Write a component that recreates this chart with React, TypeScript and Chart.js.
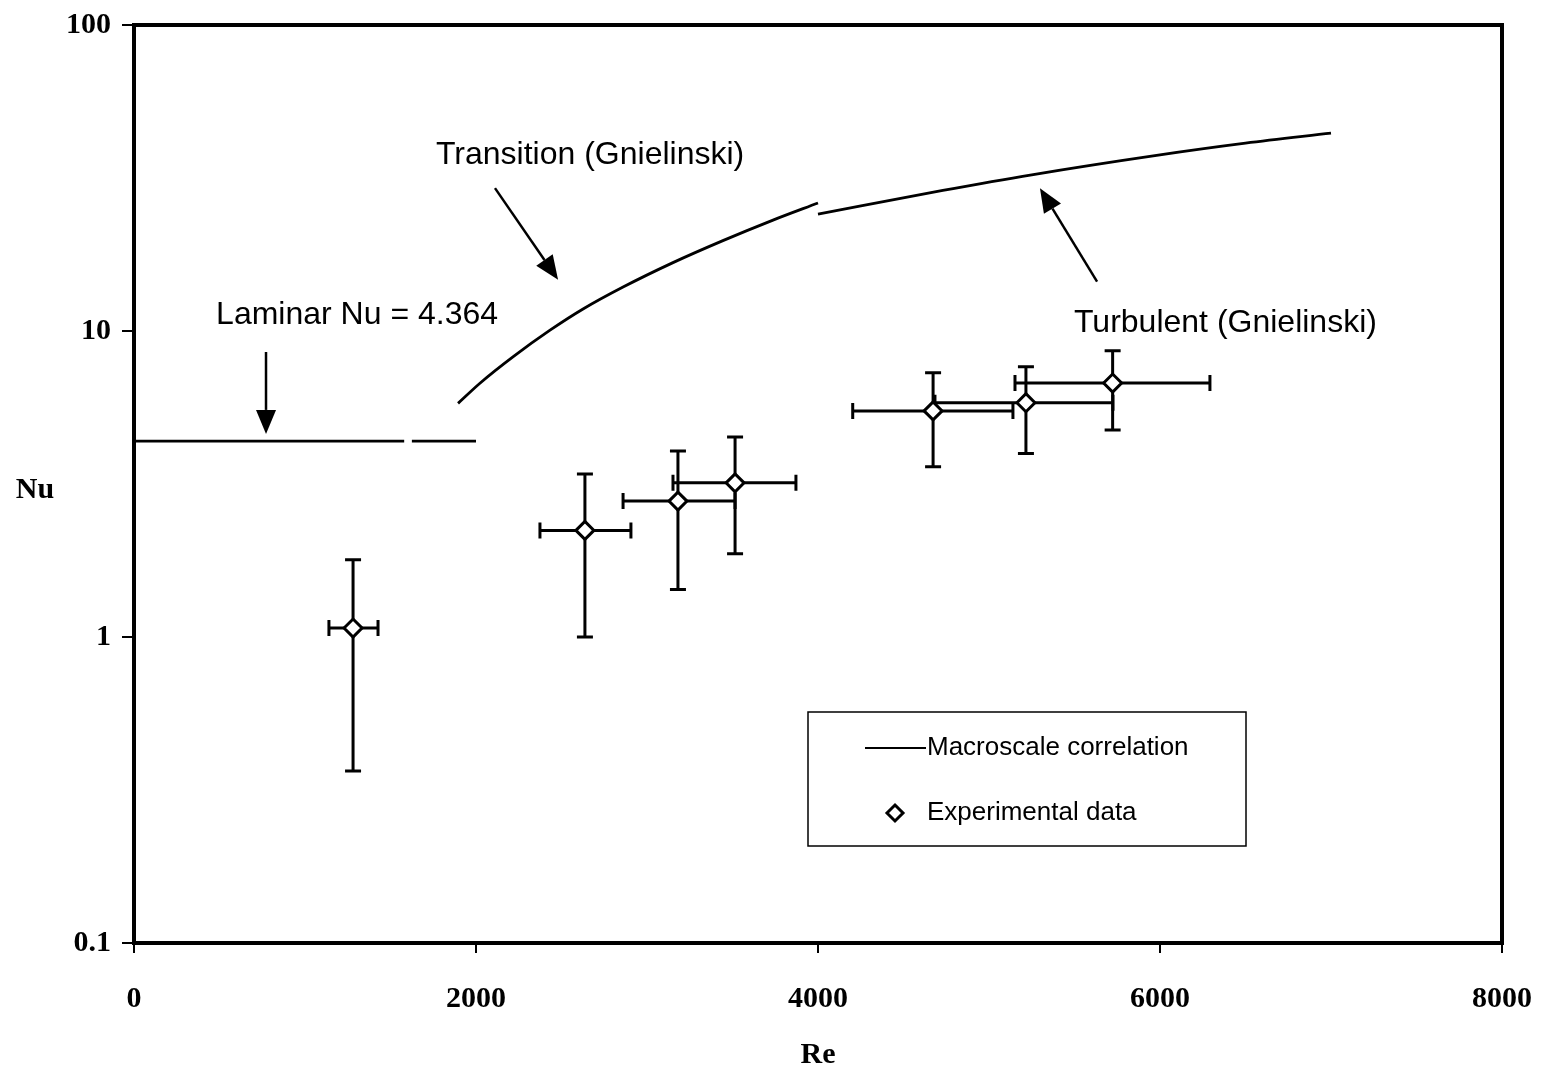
import React, { useEffect, useRef } from "react";
import { Chart, registerables } from "chart.js";

Chart.register(...registerables);

// ---- Data ----
const xTicks = [0, 2000, 4000, 6000, 8000];
const yTicks = [0.1, 1, 10, 100];

const laminarRe = [0, 1580, 1600, 1625, 2000];
const laminarNu = [4.364, 4.364, null, 4.364, 4.364];

const transitionRe = [1895, 2023, 2216, 2433, 2626, 2860, 3152, 3444, 3737, 4000];
const transitionNu = [5.8, 6.75, 8.23, 10.06, 11.8, 13.92, 16.73, 19.74, 23.04, 26.2];

const turbulentRe = [4000, 4730, 5250, 5980, 6500, 7000];
const turbulentNu = [24.1, 28.8, 32.4, 37.5, 41.1, 44.3];

const expRe = [1281, 2637, 3181, 3515, 4673, 5216, 5723];
const expNu = [1.07, 2.23, 2.78, 3.19, 5.48, 5.83, 6.76];
const expNuLow = [0.365, 1.0, 1.43, 1.87, 3.6, 3.98, 4.75];
const expNuHigh = [1.79, 3.41, 4.05, 4.5, 7.3, 7.64, 8.62];
const expReLow = [1140, 2374, 2860, 3152, 4203, 4684, 5152];
const expReHigh = [1427, 2906, 3515, 3871, 5140, 5725, 6292];

// annotations in data coordinates
const labels = [
  { text: "Laminar Nu = 4.364", re: 480, nu: 11.27 },
  { text: "Transition (Gnielinski)", re: 1766, nu: 37.6 },
  { text: "Turbulent (Gnielinski)", re: 5497, nu: 10.6 },
];
const arrows = [
  { re1: 772, nu1: 8.54, re2: 772, nu2: 4.61 },
  { re1: 2111, nu1: 29.3, re2: 2480, nu2: 14.7 },
  { re1: 5632, nu1: 14.5, re2: 5298, nu2: 29.3 },
];

const legendItems = ["Macroscale correlation", "Experimental data"];

const W = 1541;
const H = 1069;
const SANS = '"Liberation Sans", Arial, sans-serif';
const SERIF = '"Liberation Serif", "Times New Roman", serif';

function drawDiamond(ctx: CanvasRenderingContext2D, x: number, y: number, r: number) {
  ctx.beginPath();
  ctx.moveTo(x, y - r);
  ctx.lineTo(x + r, y);
  ctx.lineTo(x, y + r);
  ctx.lineTo(x - r, y);
  ctx.closePath();
  ctx.fillStyle = "#fff";
  ctx.fill();
  ctx.lineWidth = 3;
  ctx.strokeStyle = "#000";
  ctx.stroke();
}

const customPlugin = {
  id: "custom",
  beforeDraw(chart: any) {
    const ctx = chart.ctx;
    ctx.save();
    ctx.fillStyle = "#fff";
    ctx.fillRect(0, 0, chart.width, chart.height);
    ctx.restore();
  },
  beforeDatasetsDraw(chart: any) {
    const ctx = chart.ctx;
    const xs = chart.scales.x;
    const ys = chart.scales.y;
    ctx.save();
    ctx.strokeStyle = "#000";
    ctx.lineWidth = 3;
    const cap = 8;
    for (let i = 0; i < expRe.length; i++) {
      const x = xs.getPixelForValue(expRe[i]);
      const y = ys.getPixelForValue(expNu[i]);
      const yl = ys.getPixelForValue(expNuLow[i]);
      const yh = ys.getPixelForValue(expNuHigh[i]);
      const xl = xs.getPixelForValue(expReLow[i]);
      const xh = xs.getPixelForValue(expReHigh[i]);
      ctx.beginPath();
      ctx.moveTo(x, yl);
      ctx.lineTo(x, yh);
      ctx.moveTo(x - cap, yl);
      ctx.lineTo(x + cap, yl);
      ctx.moveTo(x - cap, yh);
      ctx.lineTo(x + cap, yh);
      ctx.moveTo(xl, y);
      ctx.lineTo(xh, y);
      ctx.moveTo(xl, y - cap);
      ctx.lineTo(xl, y + cap);
      ctx.moveTo(xh, y - cap);
      ctx.lineTo(xh, y + cap);
      ctx.stroke();
    }
    ctx.restore();
  },
  afterDraw(chart: any) {
    const ctx = chart.ctx;
    const xs = chart.scales.x;
    const ys = chart.scales.y;
    const a = chart.chartArea;
    ctx.save();
    // top and right frame
    ctx.strokeStyle = "#000";
    ctx.lineWidth = 4;
    ctx.beginPath();
    ctx.moveTo(a.left - 2, a.top);
    ctx.lineTo(a.right, a.top);
    ctx.lineTo(a.right, a.bottom + 2);
    ctx.stroke();

    // annotation labels
    ctx.fillStyle = "#000";
    ctx.font = `32px ${SANS}`;
    ctx.textAlign = "left";
    ctx.textBaseline = "middle";
    for (const l of labels) {
      ctx.fillText(l.text, xs.getPixelForValue(l.re), ys.getPixelForValue(l.nu));
    }
    // arrows
    ctx.lineWidth = 2.5;
    for (const ar of arrows) {
      const x1 = xs.getPixelForValue(ar.re1);
      const y1 = ys.getPixelForValue(ar.nu1);
      const x2 = xs.getPixelForValue(ar.re2);
      const y2 = ys.getPixelForValue(ar.nu2);
      const ang = Math.atan2(y2 - y1, x2 - x1);
      const hl = 24;
      const hw = 10;
      const bx = x2 - hl * Math.cos(ang);
      const by = y2 - hl * Math.sin(ang);
      ctx.beginPath();
      ctx.moveTo(x1, y1);
      ctx.lineTo(bx, by);
      ctx.stroke();
      ctx.beginPath();
      ctx.moveTo(x2, y2);
      ctx.lineTo(bx + hw * Math.sin(ang), by - hw * Math.cos(ang));
      ctx.lineTo(bx - hw * Math.sin(ang), by + hw * Math.cos(ang));
      ctx.closePath();
      ctx.fill();
    }

    // axis titles
    ctx.font = `bold 30px ${SERIF}`;
    ctx.textAlign = "center";
    ctx.textBaseline = "middle";
    ctx.fillText("Nu", 35, 490);
    ctx.fillText("Re", 818, 1055);

    // legend
    const lx = 808, ly = 712, lw = 438, lh = 134;
    ctx.lineWidth = 1.5;
    ctx.strokeStyle = "#000";
    ctx.strokeRect(lx, ly, lw, lh);
    ctx.font = `26px ${SANS}`;
    ctx.textAlign = "left";
    ctx.textBaseline = "middle";
    ctx.lineWidth = 2;
    ctx.beginPath();
    ctx.moveTo(865, 748);
    ctx.lineTo(926, 748);
    ctx.stroke();
    ctx.fillText(legendItems[0], 927, 748);
    drawDiamond(ctx, 895, 813, 8);
    ctx.fillStyle = "#000";
    ctx.fillText(legendItems[1], 927, 813);
    ctx.restore();
  },
};

export default function App() {
  const ref = useRef<HTMLCanvasElement | null>(null);
  useEffect(() => {
    if (!ref.current) return;
    const lineStyle = {
      borderColor: "#000",
      borderWidth: 2.8,
      pointRadius: 0,
      fill: false,
      showLine: true,
    };
    const chart = new Chart(ref.current, {
      type: "scatter",
      data: {
        datasets: [
          {
            label: "Laminar",
            data: laminarRe.map((r, i) => ({ x: r, y: laminarNu[i] as any })),
            ...lineStyle,
            spanGaps: false,
          },
          {
            label: "Transition",
            data: transitionRe.map((r, i) => ({ x: r, y: transitionNu[i] })),
            ...lineStyle,
            cubicInterpolationMode: "monotone",
          },
          {
            label: "Turbulent",
            data: turbulentRe.map((r, i) => ({ x: r, y: turbulentNu[i] })),
            ...lineStyle,
            cubicInterpolationMode: "monotone",
          },
          {
            label: "Experimental data",
            data: expRe.map((r, i) => ({ x: r, y: expNu[i] })),
            showLine: false,
            pointStyle: "rectRot",
            pointRadius: 9,
            pointBackgroundColor: "#fff",
            pointBorderColor: "#000",
            pointBorderWidth: 3,
          },
        ] as any,
      },
      options: {
        responsive: false,
        animation: false,
        layout: { padding: { left: 0, top: 25, right: W - 1502, bottom: 0 } },
        plugins: { legend: { display: false }, tooltip: { enabled: false } },
        scales: {
          x: {
            type: "linear",
            min: 0,
            max: 8000,
            afterBuildTicks: (s: any) => {
              s.ticks = xTicks.map((v) => ({ value: v }));
            },
            afterFit: (s: any) => {
              s.height = H - 943;
              s.paddingLeft = 0;
              s.paddingRight = 0;
            },
            grid: {
              display: true,
              drawOnChartArea: false,
              drawTicks: true,
              tickLength: 10,
              color: "#000",
              lineWidth: 2,
            },
            border: { display: true, color: "#000", width: 4 },
            ticks: {
              color: "#000",
              font: { family: SERIF, size: 30, weight: "bold" },
              padding: 28,
              maxRotation: 0,
              callback: (v: any) => String(v),
            },
          },
          y: {
            type: "logarithmic",
            min: 0.1,
            max: 100,
            afterBuildTicks: (s: any) => {
              s.ticks = yTicks.map((v) => ({ value: v }));
            },
            afterFit: (s: any) => {
              s.width = 134;
              s.paddingTop = 0;
              s.paddingBottom = 0;
            },
            grid: {
              display: true,
              drawOnChartArea: false,
              drawTicks: true,
              tickLength: 12,
              color: "#000",
              lineWidth: 2,
            },
            border: { display: true, color: "#000", width: 4 },
            ticks: {
              color: "#000",
              font: { family: SERIF, size: 30, weight: "bold" },
              padding: 11,
              callback: (v: any) => String(v),
            },
          },
        },
      } as any,
      plugins: [customPlugin],
    });
    return () => chart.destroy();
  }, []);
  return (
    <div style={{ position: "absolute", left: 0, top: 0, width: W, height: H, background: "#fff" }}>
      <canvas ref={ref} width={W} height={H} style={{ display: "block" }} />
    </div>
  );
}
